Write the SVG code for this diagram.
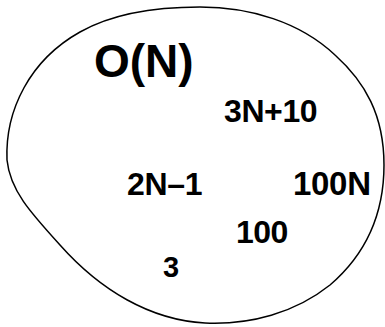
<svg xmlns="http://www.w3.org/2000/svg" width="385" height="327" viewBox="0 0 385 327">
<style>
.set{fill:#ffffff;stroke:#000000;stroke-width:1.5}
.lbl{font-family:"Liberation Sans",Arial,Helvetica,sans-serif;font-weight:bold;fill:#000000}
</style>
<rect width="385" height="327" fill="#ffffff"/>
<g id="set-on">
<path class="set" d="M7,160 C5,110 30,60 80,32 C110,15 150,7 200,7 C250,7 300,22 335,55 C365,82 384,115 384,165 C384,215 365,255 330,285 C295,313 250,325 205,323 C150,320 100,290 60,245 C30,212 10,190 7,160 Z"/>
<text class="lbl" x="94" y="77" font-size="46">O(N)</text>
</g>
<g id="f-3n10"><text class="lbl" x="224" y="122" font-size="32" letter-spacing="-0.4">3N+10</text></g>
<g id="f-2n1"><text class="lbl" x="127" y="195" font-size="32" letter-spacing="-0.3">2N–1</text></g>
<g id="f-100n"><text class="lbl" x="293" y="195" font-size="33" letter-spacing="-0.3">100N</text></g>
<g id="f-100"><text class="lbl" x="236" y="243" font-size="32" letter-spacing="-0.5">100</text></g>
<g id="f-3"><text class="lbl" x="163" y="277" font-size="29">3</text></g>
</svg>
